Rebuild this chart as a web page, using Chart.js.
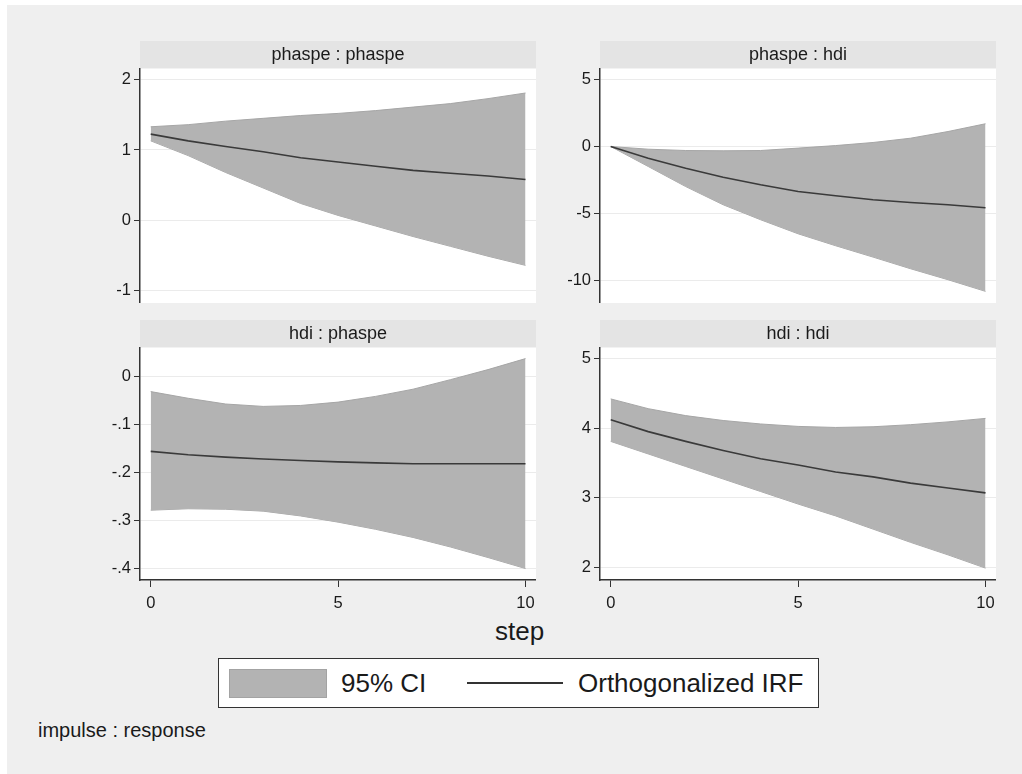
<!DOCTYPE html>
<html>
<head>
<meta charset="utf-8">
<script src="https://cdn.jsdelivr.net/npm/chart.js@4.4.1/dist/chart.umd.min.js"></script>
<style>
  html, body { margin: 0; padding: 0; background: #ffffff; }
  body { width: 1022px; height: 774px; position: relative; overflow: hidden;
         font-family: "Liberation Sans", Arial, sans-serif; }
  #bg { position: absolute; left: 7px; top: 5px; width: 1015px; height: 769px; background: #efefef; }
  canvas { position: absolute; }
  .txt { position: absolute; color: #1a1a1a; white-space: nowrap; }
  #legend { position: absolute; left: 218px; top: 658px; width: 599px; height: 48px;
            background: #ffffff; border: 1px solid #333; }
  #swatch { position: absolute; left: 10px; top: 10px; width: 96px; height: 27px;
            background: #b3b3b3; border: 1px solid #a3a3a3; }
  #lline { position: absolute; left: 248px; top: 23px; width: 96px; height: 2px; background: #333; }
</style>
</head>
<body>
<div id="bg"></div>
<canvas id="c1" width="446" height="262" style="left:90px; top:41px;"></canvas>
<canvas id="c2" width="446" height="262" style="left:550px; top:41px;"></canvas>
<canvas id="c3" width="446" height="295" style="left:90px; top:320px;"></canvas>
<canvas id="c4" width="446" height="295" style="left:550px; top:320px;"></canvas>
<div class="txt" style="left:495px; top:618px; font-size:26px; line-height:26px;">step</div>
<div id="legend">
  <div id="swatch"></div>
  <div class="txt" style="left:122px; top:10px; font-size:26px; line-height:28px;">95% CI</div>
  <div id="lline"></div>
  <div class="txt" style="left:359px; top:10px; font-size:26px; line-height:28px;">Orthogonalized IRF</div>
</div>
<div class="txt" style="left:38px; top:719px; font-size:20px; line-height:22px;">impulse : response</div>

<script>
// ---------- data ----------
const steps = [0, 1, 2, 3, 4, 5, 6, 7, 8, 9, 10];
const xTicks = [0, 5, 10];
const panelTitles = ['phaspe : phaspe', 'phaspe : hdi', 'hdi : phaspe', 'hdi : hdi'];

// phaspe : phaspe
const ppUpper = [1.33, 1.36, 1.41, 1.45, 1.49, 1.52, 1.56, 1.61, 1.66, 1.73, 1.81];
const ppLower = [1.13, 0.92, 0.68, 0.46, 0.24, 0.07, -0.08, -0.23, -0.37, -0.51, -0.64];
const ppIrf   = [1.226, 1.13, 1.05, 0.976, 0.89, 0.83, 0.77, 0.71, 0.67, 0.63, 0.58];
const ppTicks = [-1, 0, 1, 2];

// phaspe : hdi
const phUpper = [0, -0.2, -0.3, -0.32, -0.3, -0.12, 0.07, 0.3, 0.62, 1.12, 1.7];
const phLower = [0, -1.49, -2.99, -4.35, -5.47, -6.52, -7.41, -8.26, -9.13, -9.95, -10.82];
const phIrf   = [0, -0.87, -1.62, -2.29, -2.86, -3.36, -3.68, -3.98, -4.18, -4.35, -4.58];
const phTicks = [-10, -5, 0, 5];

// hdi : phaspe
const hpUpper = [-0.031, -0.045, -0.057, -0.062, -0.060, -0.053, -0.041, -0.026, -0.006, 0.015, 0.038];
const hpLower = [-0.279, -0.276, -0.277, -0.281, -0.291, -0.304, -0.319, -0.336, -0.356, -0.378, -0.401];
const hpIrf   = [-0.156, -0.163, -0.168, -0.172, -0.175, -0.178, -0.180, -0.182, -0.182, -0.182, -0.182];
const hpTicks = [-0.4, -0.3, -0.2, -0.1, 0];

// hdi : hdi
const hhUpper = [4.42, 4.28, 4.18, 4.11, 4.06, 4.025, 4.01, 4.02, 4.05, 4.09, 4.14];
const hhLower = [3.81, 3.63, 3.45, 3.27, 3.09, 2.91, 2.74, 2.55, 2.36, 2.18, 1.99];
const hhIrf   = [4.12, 3.95, 3.81, 3.68, 3.56, 3.47, 3.37, 3.30, 3.21, 3.14, 3.07];
const hhTicks = [2, 3, 4, 5];

// ---------- drawing ----------
const FONT = '"Liberation Sans", Arial, sans-serif';

function stataLabel(v) {
  let s = String(Math.round(v * 1000) / 1000);
  s = s.replace(/^(-?)0\./, '$1.');
  return s;
}

const stripPlugin = {
  id: 'strip',
  beforeDraw(chart) {
    const a = chart.chartArea, ctx = chart.ctx;
    ctx.save();
    ctx.fillStyle = '#e4e4e4';
    ctx.fillRect(a.left, 0, a.right - a.left, a.top);
    ctx.fillStyle = '#ffffff';
    ctx.fillRect(a.left, a.top, a.right - a.left, a.bottom - a.top);
    ctx.restore();
  }
};

function pts(arr) { return steps.map((s, i) => ({ x: s, y: arr[i] })); }

function makePanel(id, title, upper, lower, irf, yTicks, yMin, yMax, showX) {
  const xScale = {
    type: 'linear', min: -0.286, max: 10.28,
    display: showX,
    afterBuildTicks: (s) => { s.ticks = xTicks.map(v => ({ value: v })); },
    grid: { drawOnChartArea: false, drawTicks: true, tickLength: 7, tickColor: '#333', tickWidth: 1 },
    border: { display: true, color: '#333', width: 1.5 },
    ticks: { color: '#1a1a1a', padding: 7, font: { family: FONT, size: 16.5 },
             maxRotation: 0, callback: (v) => stataLabel(v) }
  };
  if (showX) xScale.afterFit = (s) => { s.height = 35; s.paddingLeft = 0; s.paddingRight = 0; };
  new Chart(document.getElementById(id), {
    type: 'line',
    data: {
      datasets: [
        { label: '95% CI', data: pts(upper), fill: '+1', backgroundColor: '#b3b3b3',
          borderColor: '#a6a6a6', borderWidth: 1, pointRadius: 0, tension: 0, order: 2 },
        { label: '95% CI lower', data: pts(lower), fill: false, backgroundColor: '#b3b3b3',
          borderColor: '#a6a6a6', borderWidth: 1, pointRadius: 0, tension: 0, order: 2 },
        { label: 'Orthogonalized IRF', data: pts(irf), fill: false,
          borderColor: '#3a3a3a', borderWidth: 1.6, pointRadius: 0, tension: 0, order: 1 }
      ]
    },
    options: {
      responsive: false,
      animation: false,
      devicePixelRatio: 1,
      layout: { padding: 0 },
      plugins: {
        legend: { display: false },
        tooltip: { enabled: false },
        title: {
          display: true, text: title, fullSize: false, color: '#1a1a1a',
          font: { family: FONT, size: 18, weight: 'normal', lineHeight: 1.2 },
          padding: { top: 3, bottom: 3 }
        }
      },
      scales: {
        x: xScale,
        y: {
          min: yMin, max: yMax,
          afterBuildTicks: (s) => { s.ticks = yTicks.map(v => ({ value: v })); },
          afterFit: (s) => { s.width = 50; s.paddingTop = 0; s.paddingBottom = 0; },
          grid: { color: '#ebebeb', lineWidth: 1, drawTicks: true, tickLength: 6, tickColor: '#333', tickWidth: 1 },
          border: { display: true, color: '#333', width: 1.5 },
          ticks: { color: '#1a1a1a', padding: 3, font: { family: FONT, size: 16.5 },
                   callback: (v) => stataLabel(v) }
        }
      }
    },
    plugins: [stripPlugin]
  });
}

makePanel('c1', panelTitles[0], ppUpper, ppLower, ppIrf, ppTicks, -1.175, 2.157, false);
makePanel('c2', panelTitles[1], phUpper, phLower, phIrf, phTicks, -11.69, 5.82, false);
makePanel('c3', panelTitles[2], hpUpper, hpLower, hpIrf, hpTicks, -0.425, 0.061, true);
makePanel('c4', panelTitles[3], hhUpper, hhLower, hhIrf, hhTicks, 1.819, 5.157, true);
</script>
</body>
</html>
